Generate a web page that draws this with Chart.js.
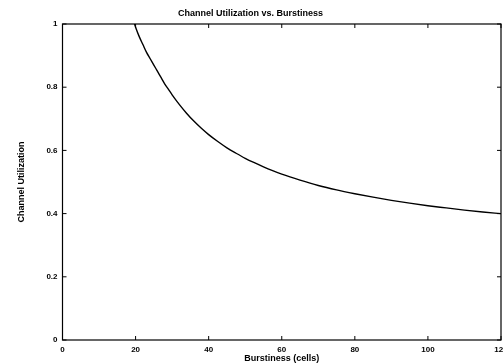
<!DOCTYPE html>
<html>
<head>
<meta charset="utf-8">
<script src="https://cdn.jsdelivr.net/npm/chart.js@4/dist/chart.umd.min.js"></script>
<style>
  html, body { margin: 0; padding: 0; background: #fff; }
  #wrap { width: 503px; height: 364px; }
</style>
</head>
<body>
<div id="wrap"><canvas id="myChart" width="503" height="364"></canvas></div>
<script>
// burstiness (cells) and channel utilization
var burstiness = [19.7, 20, 21, 22, 23, 24, 25, 26, 27, 28, 29, 30, 32, 34, 36, 38, 40, 42.5, 45, 47.5, 50, 52.5, 55, 57.5, 60, 65, 70, 75, 80, 85, 90, 95, 100, 105, 110, 115, 120];
var utilization = [1.0, 0.99, 0.96, 0.935, 0.91, 0.89, 0.87, 0.85, 0.83, 0.81, 0.793, 0.776, 0.745, 0.717, 0.692, 0.67, 0.65, 0.628, 0.608, 0.591, 0.575, 0.561, 0.548, 0.536, 0.525, 0.506, 0.489, 0.475, 0.463, 0.452, 0.442, 0.433, 0.425, 0.418, 0.411, 0.405, 0.40];
var xTicks = [0, 20, 40, 60, 80, 100, 120];
var yTicks = [0, 0.2, 0.4, 0.6, 0.8, 1];

var points = [];
for (var i = 0; i < burstiness.length; i++) {
  points.push({x: burstiness[i], y: utilization[i]});
}

var fontFam = "'Liberation Sans', Arial, Helvetica, sans-serif";

// frame + inward tick marks on all four sides (matlab look)
var frame = {
  id: 'frame',
  afterDraw: function(chart) {
    var c = chart.ctx, a = chart.chartArea;
    var xs = chart.scales.x, ys = chart.scales.y;
    var len = 4;
    c.save();
    c.strokeStyle = '#000';
    c.lineWidth = 1.2;
    c.strokeRect(a.left, a.top, a.right - a.left, a.bottom - a.top);
    c.lineWidth = 1;
    c.beginPath();
    xTicks.forEach(function(v) {
      var px = xs.getPixelForValue(v);
      c.moveTo(px, a.bottom); c.lineTo(px, a.bottom - len);
      c.moveTo(px, a.top); c.lineTo(px, a.top + len);
    });
    yTicks.forEach(function(v) {
      var py = ys.getPixelForValue(v);
      c.moveTo(a.left, py); c.lineTo(a.left + len, py);
      c.moveTo(a.right, py); c.lineTo(a.right - len, py);
    });
    c.stroke();
    c.restore();
  }
};

const ctx = document.getElementById('myChart');
const myChart = new Chart(ctx, {
  type: 'line',
  data: {
    datasets: [{
      label: 'utilization',
      data: points,
      borderColor: '#000',
      borderWidth: 1.4,
      pointRadius: 0,
      fill: false,
      cubicInterpolationMode: 'monotone'
    }]
  },
  options: {
    responsive: false,
    animation: false,
    layout: { padding: { left: 0, right: 2, top: 0, bottom: 0 } },
    plugins: {
      legend: { display: false },
      tooltip: { enabled: false },
      title: {
        display: true,
        text: 'Channel Utilization vs. Burstiness',
        color: '#000',
        font: { family: fontFam, size: 9, weight: 'bold', lineHeight: 1.2 },
        padding: { top: 8.6, bottom: 4.6 }
      }
    },
    scales: {
      x: {
        type: 'linear',
        min: 0,
        max: 120,
        afterBuildTicks: function(s) { s.ticks = xTicks.map(function(v) { return {value: v}; }); },
        ticks: { color: '#000', padding: 5, maxRotation: 0, autoSkip: false, font: { family: fontFam, size: 8, weight: 'bold' } },
        grid: { display: false, drawTicks: false },
        border: { display: false },
        title: {
          display: true,
          text: 'Burstiness (cells)',
          color: '#000',
          font: { family: fontFam, size: 9, weight: 'bold', lineHeight: 1.2 },
          padding: { top: 0, bottom: 0 }
        },
        afterFit: function(s) { s.height = 24; s.paddingLeft = 0; s.paddingRight = 0; }
      },
      y: {
        min: 0,
        max: 1,
        afterBuildTicks: function(s) { s.ticks = yTicks.map(function(v) { return {value: v}; }); },
        ticks: {
          color: '#000', padding: 5, font: { family: fontFam, size: 8, weight: 'bold' },
          callback: function(v) { return String(Math.round(v * 10) / 10); }
        },
        grid: { display: false, drawTicks: false },
        border: { display: false },
        title: {
          display: true,
          text: 'Channel Utilization',
          color: '#000',
          font: { family: fontFam, size: 9, weight: 'bold', lineHeight: 1.2 },
          padding: { top: 16, bottom: 0 }
        },
        afterFit: function(s) { s.width = 62.5; s.paddingTop = 0; s.paddingBottom = 0; }
      }
    }
  },
  plugins: [frame]
});
</script>
</body>
</html>
